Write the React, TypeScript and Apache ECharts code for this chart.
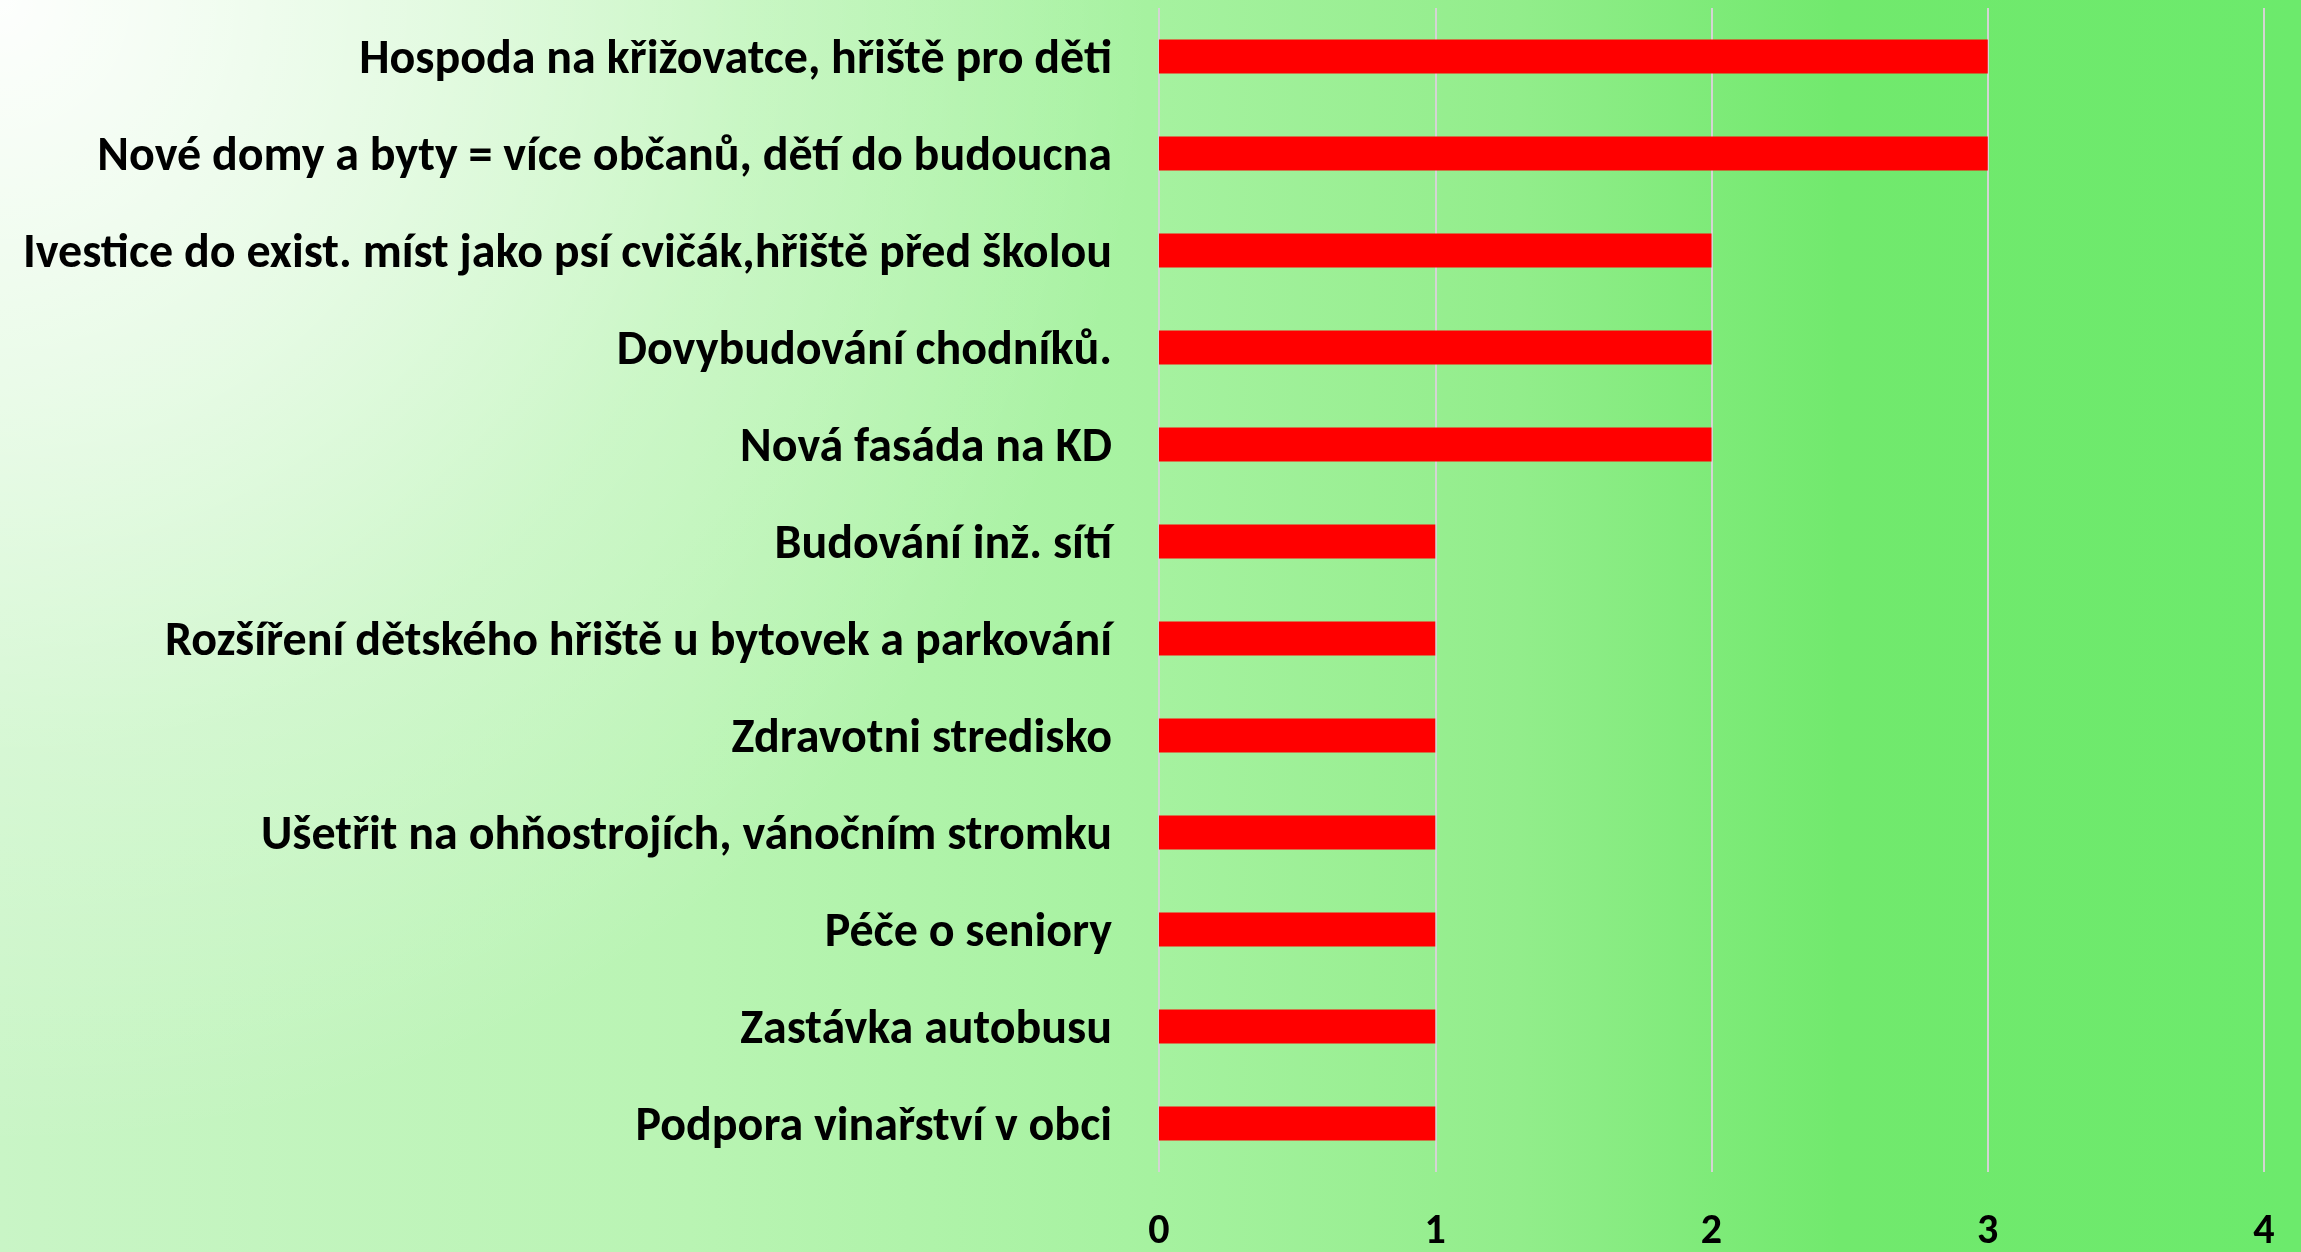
import React, { useEffect, useRef } from "react";
import * as echarts from "echarts";

const categories: string[] = [
  "Hospoda na křižovatce, hřiště pro děti",
  "Nové domy a byty = více občanů, dětí do budoucna",
  "Ivestice do exist. míst jako psí cvičák,hřiště před školou",
  "Dovybudování chodníků.",
  "Nová fasáda na KD",
  "Budování inž. sítí",
  "Rozšíření dětského hřiště u bytovek a parkování",
  "Zdravotni stredisko",
  "Ušetřit na ohňostrojích, vánočním stromku",
  "Péče o seniory",
  "Zastávka autobusu",
  "Podpora vinařství v obci",
];

const values: number[] = [3, 3, 2, 2, 2, 1, 1, 1, 1, 1, 1, 1];

const xTicks: number[] = [0, 1, 2, 3, 4];

const W = 2301;
const H = 1252;
const FONT = "Carlito, 'Open Sans', Lato, sans-serif";

export default function App() {
  const ref = useRef<HTMLDivElement>(null);

  useEffect(() => {
    if (!ref.current) return;
    const chart = echarts.init(ref.current, undefined, { renderer: "svg" });
    chart.setOption({
      animation: false,
      backgroundColor: "transparent",
      graphic: [
        {
          type: "rect",
          z: -20,
          silent: true,
          shape: { x: 0, y: 0, width: W, height: H },
          style: {
            fill: new echarts.graphic.LinearGradient(0, 0, 1, 0, [
              { offset: 0, color: "#c9f5c6" },
              { offset: 0.3, color: "#b9f4b3" },
              { offset: 0.5, color: "#a6f2a0" },
              { offset: 0.66, color: "#92ed8b" },
              { offset: 0.8, color: "#71e96d" },
              { offset: 1, color: "#6cea6c" },
            ]),
          },
        },
        {
          type: "rect",
          z: -19,
          silent: true,
          shape: { x: 0, y: 0, width: W, height: H },
          style: {
            fill: new echarts.graphic.RadialGradient(
              0,
              0,
              1150,
              [
                { offset: 0, color: "rgba(255,255,255,0.97)" },
                { offset: 0.35, color: "rgba(255,255,255,0.6)" },
                { offset: 0.65, color: "rgba(255,255,255,0.25)" },
                { offset: 1, color: "rgba(255,255,255,0)" },
              ],
              true
            ),
          },
        },
      ],
      grid: {
        left: 1159,
        right: W - 2264,
        top: 8,
        bottom: H - 1172,
        containLabel: false,
      },
      xAxis: {
        type: "value",
        min: xTicks[0],
        max: xTicks[xTicks.length - 1],
        interval: 1,
        axisLine: { show: false },
        axisTick: { show: false },
        splitLine: { show: true, lineStyle: { color: "#d4d4d4", width: 2 } },
        axisLabel: {
          margin: 36,
          fontSize: 42,
          lineHeight: 40,
          fontWeight: "bold",
          color: "#000",
          fontFamily: FONT,
        },
      },
      yAxis: {
        type: "category",
        inverse: true,
        data: categories,
        axisLine: { show: false },
        axisTick: { show: false },
        splitLine: { show: false },
        axisLabel: {
          margin: 47,
          fontSize: 48,
          fontWeight: "bold",
          color: "#000",
          fontFamily: FONT,
        },
      },
      series: [
        {
          type: "bar",
          data: values,
          barWidth: 34,
          itemStyle: { color: "#ff0000" },
          silent: true,
        },
      ],
    });
    return () => chart.dispose();
  }, []);

  return (
    <div
      ref={ref}
      style={{ position: "fixed", left: 0, top: 0, width: W, height: H }}
    />
  );
}
